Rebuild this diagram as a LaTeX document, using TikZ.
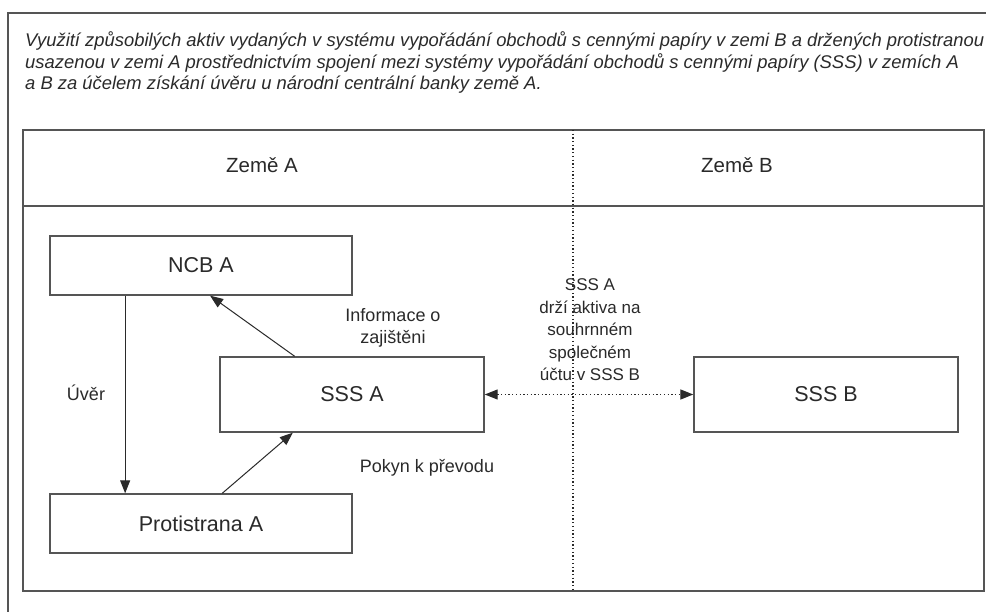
\documentclass[tikz,border=0pt]{standalone}
\usepackage{fontspec}
\setmainfont{Liberation Sans}
\usetikzlibrary{arrows.meta,calc}
\definecolor{ink}{HTML}{2A2A2A}
\definecolor{frame}{HTML}{555555}
\begin{document}
\begin{tikzpicture}[x=1pt,y=-1pt,
  box/.style={draw=frame,line width=1.4pt,minimum width=302pt,minimum height=59pt,inner sep=0pt,text=ink,font=\fontsize{21.5}{24}\selectfont},
  widebox/.style={box,minimum width=264pt,minimum height=75pt},
  lbl/.style={text=ink,font=\fontsize{18}{21}\selectfont,align=center,inner sep=0pt},
  tline/.style={anchor=west,text=ink,inner sep=0pt,font=\fontsize{18.4}{22}\selectfont\itshape},
  tip/.style={Triangle[length=13pt,width=10pt]},
  arr/.style={draw=ink,line width=1pt,-{Triangle[length=13pt,width=10pt]}},
  dotline/.style={draw=ink,line width=1.3pt,dash pattern=on 1.3pt off 2.4pt}
]
\useasboundingbox (0,0) rectangle (986,612);
\fill[white] (0,0) rectangle (986,612);
% outer frame (cut off at right and bottom)
\draw[frame,line width=1.8pt] (8,640) -- (8,13) -- (1000,13);
% title
\node[tline] (t1) at (25,41) {Využití způsobilých aktiv vydaných v systému vypořádání obchodů s cennými papíry v zemi B a držených protistranou};
\node[tline] (t2) at (25,63) {usazenou v zemi A prostřednictvím spojení mezi systémy vypořádání obchodů s cennými papíry (SSS) v zemích A};
\node[tline] (t3) at (25,85) {a B za účelem získání úvěru u národní centrální banky země A.};
% inner frame
\draw[frame,line width=1.6pt] (23,130) rectangle (984,591);
\draw[frame,line width=1.6pt] (23,206) -- (984,206);
\draw[dotline] (573,130) -- (573,591);
\node[lbl,font=\fontsize{20.5}{24}\selectfont] (za) at (262,165) {Země A};
\node[lbl,font=\fontsize{20.5}{24}\selectfont] (zb) at (737,165) {Země B};
% boxes
\node[box] (ncb) at (201,265.5) {NCB A};
\node[widebox] (sssa) at (352,394.5) {SSS A};
\node[box] (prot) at (201,523.5) {Protistrana A};
\node[widebox] (sssb) at (826,394.5) {SSS B};
% arrows
\draw[arr] ($(ncb.south west)!0.25!(ncb.south east)$) -- ($(prot.north west)!0.25!(prot.north east)$);
\node[lbl] (uver) at (86,393) {Úvěr};
\draw[arr] ($(sssa.north west)!0.284!(sssa.north east)$) -- ($(ncb.south west)!0.53!(ncb.south east)$);
\node[lbl,font=\fontsize{18}{22}\selectfont] (info) at (393,327.5) {Informace o\\zajištěni};
\draw[arr] ($(prot.north west)!0.57!(prot.north east)$) -- ($(sssa.south west)!0.277!(sssa.south east)$);
\node[lbl] (pokyn) at (427,468) {Pokyn k převodu};
\draw[dotline,{Triangle[length=13pt,width=10pt]}-{Triangle[length=13pt,width=10pt]}] (sssa.east) -- (sssb.west);
\node[lbl,font=\fontsize{17}{22.5}\selectfont] (hold) at (590,330) {SSS A\\drží aktiva na\\souhrnném\\společném\\účtu v SSS B};
\end{tikzpicture}
\end{document}
